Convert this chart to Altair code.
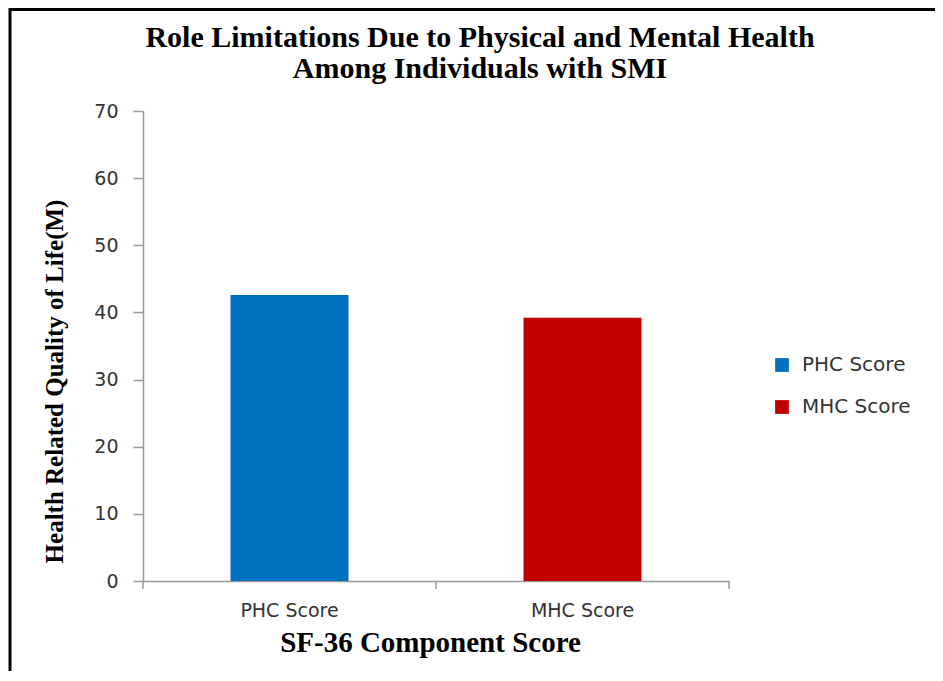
import altair as alt
import pandas as pd

categories = ["PHC Score", "MHC Score"]
values = [42.6, 39.2]
colors = ["#0070C0", "#C00000"]
y_ticks = [0, 10, 20, 30, 40, 50, 60, 70]

df = pd.DataFrame({"cat": categories, "val": values})
edges_left = pd.DataFrame({"cat": categories})
edges_right = pd.DataFrame({"cat": categories[-1:]})

W, H = 586, 470
SANS = "DejaVu Sans"
SERIF = "Liberation Serif"

xscale = alt.Scale(domain=categories, paddingInner=0, paddingOuter=0)

bars = alt.Chart(df).mark_bar(size=118).encode(
    x=alt.X("cat:N", scale=xscale, sort=categories,
            axis=alt.Axis(title="SF-36 Component Score", labelAngle=0, ticks=False, tickSize=0,
                          labelPadding=20, domainColor="#999999", domainWidth=1.5,
                          labelFont=SANS, labelFontSize=19, labelColor="#333333",
                          titleFont=SERIF, titleFontSize=29, titleFontWeight="bold",
                          titleColor="#000000", titleX=287, titleY=70,
                          titleBaseline="alphabetic")),
    y=alt.Y("val:Q", scale=alt.Scale(domain=[0, 70], nice=False),
            axis=alt.Axis(title="Health Related Quality of Life(M)", values=y_ticks, grid=False,
                          tickSize=10, tickColor="#999999", tickWidth=1.5,
                          domainColor="#999999", domainWidth=1.5, labelPadding=15,
                          labelFont=SANS, labelFontSize=19, labelColor="#333333",
                          titleFont=SERIF, titleFontSize=25, titleFontWeight="bold",
                          titleColor="#000000", titleX=-81, titleY=270,
                          titleAlign="center", titleBaseline="alphabetic", titleAngle=270)),
    color=alt.Color("cat:N", scale=alt.Scale(domain=categories, range=colors), sort=categories,
                    legend=alt.Legend(title=None, orient="none", legendX=629, legendY=244,
                                      symbolType="square", symbolSize=190, symbolStrokeWidth=0,
                                      labelFont=SANS, labelFontSize=20, labelColor="#333333",
                                      labelOffset=10, rowPadding=22)),
)

tick_style = dict(color="#999999", strokeWidth=1.5)
ticks_l = alt.Chart(edges_left).mark_rule(**tick_style).encode(
    x=alt.X("cat:N", scale=xscale, bandPosition=0, sort=categories),
    y=alt.value(H), y2=alt.value(H + 8))
ticks_r = alt.Chart(edges_right).mark_rule(**tick_style).encode(
    x=alt.X("cat:N", scale=xscale, bandPosition=1, sort=categories),
    y=alt.value(H), y2=alt.value(H + 8))

frame = alt.Chart(edges_right).mark_rect(fill=None, stroke="#000000", strokeWidth=3, clip=False).encode(
    x=alt.value(-133), x2=alt.value(2000), y=alt.value(-101.5), y2=alt.value(2000))

chart = alt.layer(frame, bars, ticks_l, ticks_r).properties(
    width=W, height=H,
    title=alt.TitleParams(
        text=["Role Limitations  Due to Physical and Mental Health", "Among Individuals  with SMI"],
        font=SERIF, fontSize=30, fontWeight="bold", color="#000000",
        anchor="middle", frame="group", dx=44, offset=-76, lineHeight=31),
    autosize=alt.AutoSizeParams(type="none"),
    padding={"left": 135, "top": 103, "right": 206, "bottom": 90},
).configure(background="#ffffff").configure_view(stroke=None)

chart.save("out.html", embed_options={"renderer": "svg", "actions": False})
